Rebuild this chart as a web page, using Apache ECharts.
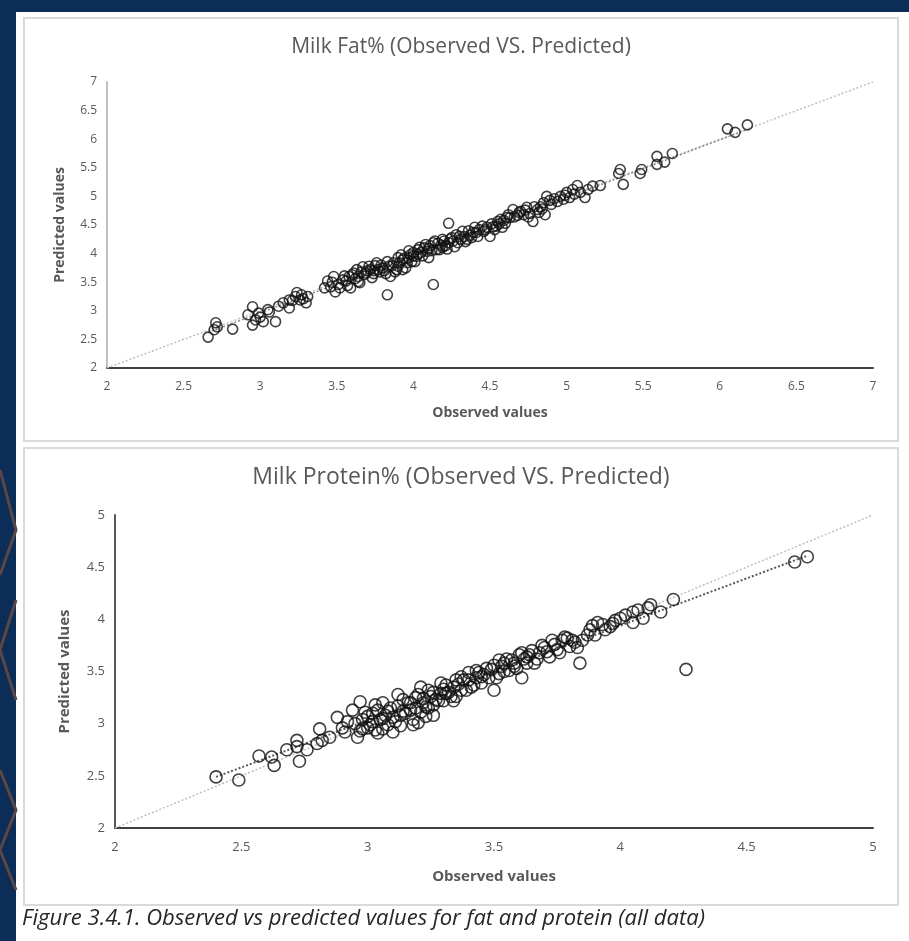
<!DOCTYPE html>
<html>
<head>
<meta charset="utf-8">
<script src="https://cdn.jsdelivr.net/npm/echarts@6/dist/echarts.min.js"></script>
<style>
html,body{margin:0;padding:0;background:#0b2d58;}
#chart{width:909px;height:941px;}
</style>
</head>
<body>
<div id="chart"></div>
<script>
// ---- Data ----
const fatTitle = "Milk Fat% (Observed VS. Predicted)";
const proteinTitle = "Milk Protein% (Observed VS. Predicted)";
const xName = "Observed values";
const yName = "Predicted values";
const caption = "Figure 3.4.1. Observed vs predicted values for fat and protein (all data)";

const fatAxis = {min: 2, max: 7, interval: 0.5};
const proteinAxis = {min: 2, max: 5, interval: 0.5};

// Milk fat %: [observed, predicted]
const fatPoints = [
  [2.66,2.54],[2.71,2.79],[2.70,2.67],[2.72,2.72],[2.82,2.68],[2.92,2.93],[2.95,3.07],[2.95,2.75],
  [2.97,2.84],[3.00,2.89],[3.02,2.81],[3.06,2.98],[3.10,2.81],[3.15,3.14],[3.19,3.19],[3.19,3.05],
  [3.23,3.25],[3.24,3.32],[3.26,3.19],[3.28,3.21],[3.31,3.25],[3.30,3.14],
  [3.46,3.42],[3.48,3.60],[3.49,3.33],[3.51,3.46],[3.54,3.54],[3.57,3.44],[3.59,3.40],[3.60,3.63],
  [3.63,3.72],[3.62,3.56],[3.65,3.49],[3.67,3.77],[3.68,3.63],[3.70,3.70],[3.72,3.72],[3.73,3.58],
  [3.75,3.79],[3.76,3.84],[3.78,3.68],[3.80,3.75],[3.83,3.28],[3.85,3.60],[3.86,3.79],[3.88,3.68],
  [3.89,3.72],[3.91,3.84],[3.93,3.89],[3.95,3.75],[3.96,3.84],[3.98,3.98],[4.00,4.02],[4.01,3.86],
  [4.02,3.95],[4.04,4.11],[4.06,3.96],[4.09,4.04],[4.11,4.14],[4.13,4.19],[4.13,3.46],[4.15,4.07],
  [4.17,4.07],[4.19,4.25],[4.21,4.14],[4.23,4.19],[4.23,4.53],[4.25,4.28],[4.27,4.12],[4.30,4.30],
  [4.34,4.21],[4.35,4.25],[4.39,4.37],[4.42,4.30],[4.43,4.42],[4.48,4.46],[4.50,4.30],[4.52,4.47],
  [4.55,4.56],[4.57,4.60],[4.58,4.46],[4.61,4.63],[4.65,4.77],[4.68,4.67],[4.72,4.68],[4.74,4.81],
  [4.78,4.56],[4.81,4.77],[4.83,4.82],[4.85,4.89],[4.86,4.68],[4.87,5.00],[4.90,4.86],[4.94,4.91],
  [4.96,5.00],[4.98,4.95],[5.00,5.07],[5.02,4.98],[5.04,5.12],[5.07,5.19],[5.09,5.07],[5.12,4.98],
  [5.14,5.12],[5.17,5.18],[5.22,5.19],[5.34,5.40],[5.35,5.47],[5.37,5.21],[5.48,5.40],[5.49,5.47],
  [5.59,5.70],[5.59,5.56],[5.64,5.60],[5.69,5.75],[6.05,6.18],[6.10,6.12],[6.18,6.25],
  [3.55,3.61],[3.64,3.51],[3.66,3.68],[3.74,3.65],[3.77,3.72],[3.82,3.65],[3.83,3.86],[3.90,3.93],
  [3.93,3.72],[3.97,3.93],[3.99,3.86],[4.03,4.07],[4.08,4.16],[4.10,3.93],[4.16,4.18],[4.19,4.11],
  [4.24,4.25],[4.29,4.19],[4.32,4.39],[4.37,4.32],[4.40,4.46],[4.46,4.39],[4.53,4.42],[4.60,4.53],
  [4.63,4.63],[4.70,4.74],[4.76,4.70],
  [3.47,3.50],[3.52,3.40],[3.56,3.52],[3.58,3.60],[3.61,3.66],[3.64,3.60],[3.69,3.66],[3.71,3.78],
  [3.74,3.70],[3.79,3.80],[3.81,3.70],[3.84,3.78],[3.87,3.84],[3.90,3.78],[3.92,3.98],[3.94,3.92],
  [3.97,4.05],[4.00,3.96],[4.03,3.99],[4.05,4.02],[4.07,4.10],[4.10,4.09],[4.12,4.05],[4.14,4.22],
  [4.18,4.15],[4.20,4.22],[4.22,4.08],[4.26,4.22],[4.28,4.33],[4.31,4.25],[4.33,4.30],[4.36,4.40],
  [4.38,4.28],[4.41,4.37],[4.45,4.48],[4.47,4.42],[4.51,4.52],[4.54,4.48],[4.56,4.52],[4.59,4.58],
  [4.62,4.68],[4.66,4.64],[4.69,4.72],[4.73,4.76],[4.75,4.64],[4.79,4.82],[4.82,4.72],[4.84,4.78],
  [4.89,4.93],[4.92,4.96],[4.99,5.02],[5.05,5.04],[3.05,3.02],[2.99,2.96],[3.12,3.08],[3.21,3.18],
  [3.27,3.28],[3.42,3.40],[3.44,3.52]
];
const fatIdentity = [[2,2],[7,7]];
const fatTrend = [[2.66,2.62],[6.18,6.17]];

// Milk protein %: [observed, predicted]
const proteinPoints = [
  [2.40,2.49],[2.49,2.46],[2.57,2.69],[2.62,2.68],[2.63,2.60],[2.68,2.75],[2.72,2.84],[2.73,2.64],
  [2.72,2.78],[2.76,2.75],[2.80,2.81],[2.81,2.95],[2.82,2.84],[2.85,2.87],[2.88,3.06],[2.91,2.92],
  [2.94,3.13],[2.96,2.87],[2.97,3.21],[2.98,3.04],[3.00,2.96],[3.02,3.10],[3.04,2.91],[3.05,3.04],
  [3.06,3.20],[3.08,2.99],[3.10,2.92],[3.12,3.28],[3.13,3.08],[3.16,3.20],[3.18,3.04],[3.20,3.01],
  [3.21,3.35],[3.23,3.16],[3.25,3.26],[3.27,3.23],[3.29,3.39],[3.31,3.29],[3.34,3.35],[3.37,3.45],
  [3.39,3.32],[3.40,3.42],[3.43,3.51],[3.45,3.39],[3.50,3.32],[3.50,3.56],
  [3.61,3.68],[3.63,3.58],[3.61,3.44],[3.56,3.51],[3.54,3.58],[3.68,3.68],[3.72,3.64],[3.73,3.80],
  [3.77,3.80],[3.80,3.74],[3.83,3.73],[3.84,3.58],[3.87,3.85],[3.91,3.97],[3.90,3.85],[3.96,3.93],
  [3.98,3.99],[4.05,4.07],[4.05,3.97],[4.09,4.01],[4.11,4.11],[4.16,4.07],[4.21,4.19],[4.26,3.52],
  [4.69,4.55],[4.74,4.60],
  [2.99,3.11],[3.01,2.99],[3.03,3.18],[3.07,3.08],[3.09,3.15],[3.11,3.02],[3.14,3.23],[3.17,3.13],
  [3.19,3.25],[3.21,3.11],[3.24,3.32],[3.26,3.18],[3.29,3.29],[3.31,3.37],[3.33,3.26],[3.35,3.42],
  [3.37,3.32],[3.40,3.49],[3.42,3.37],[3.44,3.49],[3.47,3.53],[3.48,3.44],[3.52,3.61],[3.54,3.50],
  [3.57,3.61],[3.59,3.53],[3.64,3.66],[3.66,3.58],[3.70,3.73],[3.75,3.71],[3.78,3.83],[3.81,3.80],
  [3.88,3.90],[3.93,3.95],[4.00,4.01],[4.07,4.09],[4.12,4.14],
  [3.18,2.99],[3.26,3.08],[3.35,3.26],[2.97,2.93],[3.06,2.95],[3.14,3.12],[3.22,3.20],[3.30,3.22],
  [3.45,3.45],[3.52,3.48],[3.58,3.58],[3.62,3.62],
  [2.95,3.00],[2.98,2.95],[3.00,3.07],[3.02,3.02],[3.04,3.13],[3.06,3.05],[3.08,3.12],[3.10,3.06],
  [3.12,3.17],[3.15,3.10],[3.17,3.20],[3.19,3.15],[3.20,3.28],[3.22,3.24],[3.24,3.15],[3.26,3.30],
  [3.28,3.22],[3.30,3.33],[3.32,3.30],[3.34,3.22],[3.36,3.38],[3.38,3.42],[3.41,3.35],[3.43,3.44],
  [3.46,3.47],[3.49,3.52],[3.51,3.44],[3.53,3.55],[3.55,3.62],[3.58,3.55],[3.60,3.66],[3.63,3.64],
  [3.65,3.70],[3.67,3.62],[3.69,3.75],[3.71,3.69],[3.74,3.76],[3.76,3.68],[3.79,3.82],[3.82,3.78],
  [3.85,3.80],[3.89,3.94],[3.94,3.90],[3.97,3.96],[4.02,4.04],[3.03,2.94],[3.13,2.98],[3.23,3.07],
  [2.92,3.02],[2.90,2.96]
];
const proteinIdentity = [[2,2],[5,5]];
const proteinTrend = [[2.40,2.49],[4.74,4.61]];

// ---- Chart ----
const FONT = "'Open Sans', 'Noto Sans', sans-serif";
const GREY = '#595959';

function xAxisCfg(gi, ax, fs, nfs, gap, lineColor) {
  return {
    type: 'value', gridIndex: gi, min: ax.min, max: ax.max, interval: ax.interval,
    name: xName, nameLocation: 'middle', nameGap: gap,
    nameTextStyle: {color: GREY, fontWeight: 'bold', fontSize: nfs, fontFamily: FONT},
    axisLine: {show: true, onZero: false, lineStyle: {color: lineColor, width: 2}},
    axisTick: {show: false},
    splitLine: {show: false},
    axisLabel: {color: GREY, fontSize: fs, fontFamily: FONT, margin: 13, showMinLabel: true, showMaxLabel: true}
  };
}
function yAxisCfg(gi, ax, fs, nfs, gap, lineColor) {
  return {
    type: 'value', gridIndex: gi, min: ax.min, max: ax.max, interval: ax.interval,
    name: yName, nameLocation: 'middle', nameGap: gap,
    nameTextStyle: {color: GREY, fontWeight: 'bold', fontSize: nfs, fontFamily: FONT},
    axisLine: {show: true, onZero: false, lineStyle: {color: lineColor, width: 2}},
    axisTick: {show: false},
    splitLine: {show: false},
    axisLabel: {color: GREY, fontSize: fs, fontFamily: FONT, margin: 10, showMinLabel: true, showMaxLabel: true}
  };
}
function scatter(idx, data, size) {
  return {
    type: 'scatter', xAxisIndex: idx, yAxisIndex: idx, data: data, symbol: 'circle', symbolSize: size,
    itemStyle: {color: 'rgba(0,0,0,0)', borderColor: '#111', borderWidth: 1.6, opacity: 0.8},
    z: 5
  };
}
function dotted(idx, data, color, width) {
  return {
    type: 'line', xAxisIndex: idx, yAxisIndex: idx, data: data, symbol: 'none',
    lineStyle: {color: color, width: width, type: [2, 2]}, z: 3
  };
}

const chart = echarts.init(document.getElementById('chart'), null, {renderer: 'canvas'});
chart.setOption({
  animation: false,
  backgroundColor: '#0b2d58',
  graphic: [
    {type: 'rect', shape: {x: 16, y: 12, width: 893, height: 929}, style: {fill: '#ffffff'}, z: -10},
    {type: 'rect', shape: {x: 24, y: 18, width: 874, height: 423}, style: {fill: '#ffffff', stroke: '#d9d9d9', lineWidth: 2}, z: -9},
    {type: 'rect', shape: {x: 24, y: 448, width: 874, height: 457}, style: {fill: '#ffffff', stroke: '#d9d9d9', lineWidth: 2}, z: -9},
    {type: 'polyline', shape: {points: [[0, 470], [16, 530], [0, 575]]}, style: {stroke: '#5a4646', lineWidth: 3, fill: null}, z: -8},
    {type: 'polyline', shape: {points: [[16, 600], [0, 650], [16, 700]]}, style: {stroke: '#5a4646', lineWidth: 3, fill: null}, z: -8},
    {type: 'polyline', shape: {points: [[0, 770], [16, 810], [0, 850], [16, 890]]}, style: {stroke: '#5a4646', lineWidth: 3, fill: null}, z: -8},
    {type: 'text', x: 461, y: 47, style: {text: fatTitle, align: 'center', verticalAlign: 'middle', fill: GREY, font: "21px 'Open Sans', sans-serif"}},
    {type: 'text', x: 461, y: 477, style: {text: proteinTitle, align: 'center', verticalAlign: 'middle', fill: GREY, font: "23px 'Open Sans', sans-serif"}},
    {type: 'text', x: 22, y: 919, style: {text: caption, align: 'left', verticalAlign: 'middle', fill: '#262626', font: "italic 22px 'Open Sans', sans-serif"}}
  ],
  grid: [
    {left: 107, top: 82, width: 766, height: 286},
    {left: 115, top: 515, width: 758, height: 313}
  ],
  xAxis: [
    xAxisCfg(0, fatAxis, 12, 14, 38, '#404040'),
    xAxisCfg(1, proteinAxis, 13, 15, 41, '#404040')
  ],
  yAxis: [
    yAxisCfg(0, fatAxis, 12, 14, 40, '#bfbfbf'),
    yAxisCfg(1, proteinAxis, 13, 15, 43, '#595959')
  ],
  series: [
    dotted(0, fatIdentity, '#bfbfbf', 1.5),
    dotted(0, fatTrend, '#8c8c8c', 1.5),
    scatter(0, fatPoints, 10),
    dotted(1, proteinIdentity, '#bfbfbf', 1.5),
    dotted(1, proteinTrend, '#595959', 2),
    scatter(1, proteinPoints, 12)
  ]
});
</script>
</body>
</html>
